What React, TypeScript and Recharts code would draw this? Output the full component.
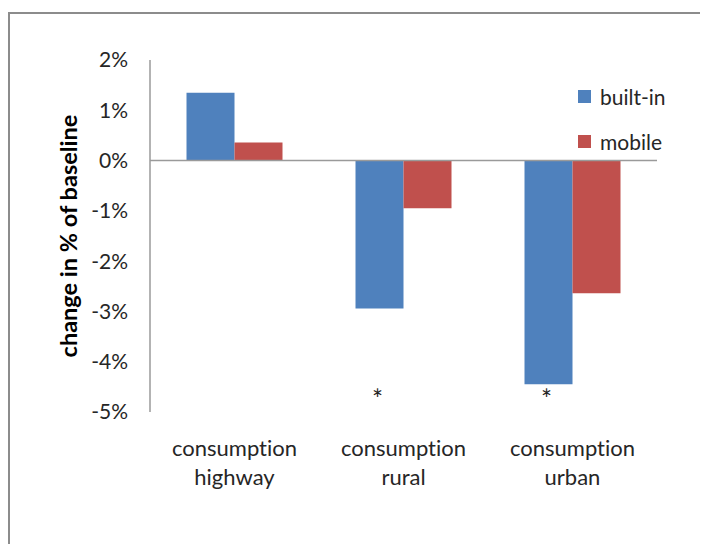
import { BarChart, Bar, XAxis, YAxis, ReferenceLine, Legend, LabelList } from 'recharts';

const categories = ['consumption highway', 'consumption rural', 'consumption urban'];
const builtIn = [1.35, -2.94, -4.45];
const mobile = [0.36, -0.95, -2.64];
const significant = [false, true, true];
const markerLevel = -4.72;
const yTicks = [-5, -4, -3, -2, -1, 0, 1, 2];

const BLUE = '#4F81BD';
const RED = '#C0504D';
const FONT = 'Lato, "Liberation Sans", sans-serif';

const data = categories.map((name, i) => ({
  name,
  builtIn: builtIn[i],
  mobile: mobile[i],
  sig: significant[i],
}));

const CategoryTick = ({ x, y, payload }: any) => {
  const lines = String(payload.value).split(' ');
  return (
    <g>
      {lines.map((line: string, i: number) => (
        <text
          key={i}
          x={x}
          y={y + 42 + i * 29}
          textAnchor="middle"
          fontSize={22}
          fill="#262626"
          fontFamily={FONT}
          style={{ fontVariantLigatures: 'none' }}
        >
          {line}
        </text>
      ))}
    </g>
  );
};

const StarLabel = (props: any) => {
  const { x, y, width, height, index } = props;
  if (!significant[index]) return null;
  const v = builtIn[index];
  const ends = [y, y + height];
  const zeroY = v < 0 ? Math.min(...ends) : Math.max(...ends);
  const pxPerUnit = Math.abs(height) / Math.abs(v);
  const starY = zeroY - markerLevel * pxPerUnit;
  return (
    <text x={x + width / 2 - 2} y={starY + 11} textAnchor="middle" fontSize={26} fill="#222" fontFamily={FONT}>
      *
    </text>
  );
};

const LegendBox = () => (
  <div style={{ fontFamily: FONT, fontSize: 21, color: '#262626' }}>
    {[
      { label: 'built-in', color: BLUE },
      { label: 'mobile', color: RED },
    ].map((item) => (
      <div key={item.label} style={{ display: 'flex', alignItems: 'center', height: 45 }}>
        <span style={{ width: 13, height: 13, background: item.color, marginRight: 9, display: 'inline-block' }} />
        <span>{item.label}</span>
      </div>
    ))}
  </div>
);

const YLabel = ({ viewBox }: any) => {
  const cx = 60;
  const cy = viewBox.y + viewBox.height / 2;
  return (
    <text
      x={cx}
      y={cy}
      transform={`rotate(-90, ${cx}, ${cy})`}
      textAnchor="middle"
      dominantBaseline="central"
      fontSize={23.5}
      fontWeight="bold"
      fill="#000"
      fontFamily={FONT}
    >
      change in % of baseline
    </text>
  );
};

export default function App() {
  return (
    <div style={{ position: 'relative', width: 700, height: 536 }}>
      <div
        style={{
          position: 'absolute',
          left: 0,
          top: 4,
          width: 700,
          height: 532,
          borderTop: '2px solid #8c8c8c',
          borderLeft: '2px solid #8c8c8c',
          boxSizing: 'border-box',
        }}
      />
      <div style={{ position: 'absolute', left: 0, top: 0 }}>
        <BarChart
          width={700}
          height={536}
          data={data}
          margin={{ top: 52, right: 51, left: 0, bottom: 32 }}
          barCategoryGap="21.6%"
          barGap={0}
        >
          <XAxis dataKey="name" axisLine={false} tickLine={false} tickSize={0} height={100} tick={<CategoryTick />} interval={0} />
          <YAxis
            width={142}
            domain={[-5, 2]}
            ticks={yTicks}
            tickFormatter={(v: number) => `${v}%`}
            tickLine={false}
            tickSize={0}
            tickMargin={22}
            axisLine={{ stroke: '#9a9a9a', strokeWidth: 1.5 }}
            tick={{ fontSize: 21, fill: '#262626', fontFamily: FONT }}
            label={<YLabel />}
          />
          <ReferenceLine y={0} stroke="#9a9a9a" strokeWidth={1.5} />
          <Legend
            layout="vertical"
            verticalAlign="middle"
            align="center"
            content={<LegendBox />}
            wrapperStyle={{ left: 570, top: 66, width: 120 }}
          />
          <Bar dataKey="builtIn" name="built-in" fill={BLUE} isAnimationActive={false}>
            <LabelList dataKey="builtIn" content={<StarLabel />} />
          </Bar>
          <Bar dataKey="mobile" name="mobile" fill={RED} isAnimationActive={false} />
        </BarChart>
      </div>
    </div>
  );
}
